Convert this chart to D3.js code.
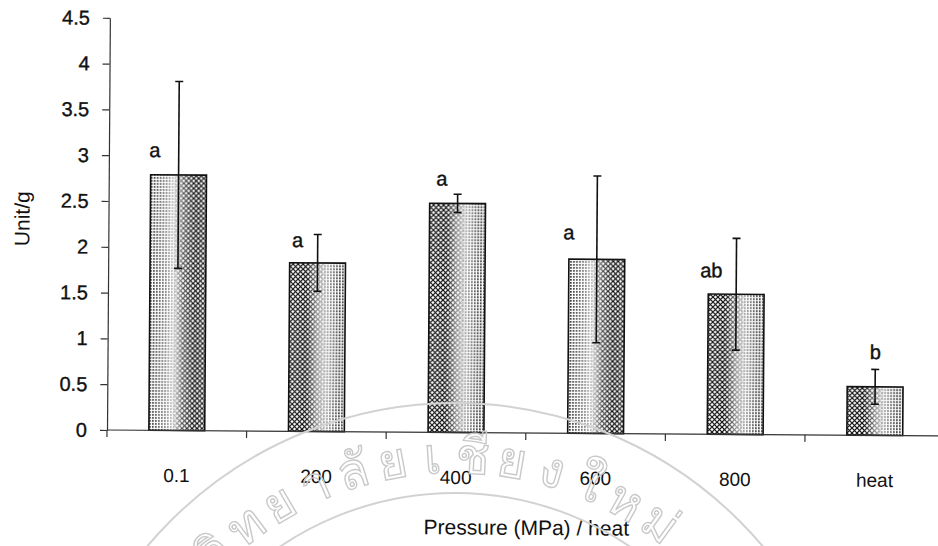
<!DOCTYPE html>
<html>
<head>
<meta charset="utf-8"/>
<script src="https://d3js.org/d3.v7.min.js"></script>
<style>
body { margin: 0; background: #fff; overflow: hidden; }
text { font-family: "Liberation Sans", Arial, sans-serif; fill: #111; }
.axis path, .axis line { stroke: #333; stroke-width: 1.2; }
.axis text { font-size: 19px; }
</style>
</head>
<body>
<svg id="svg" width="938" height="546"></svg>
<script>
var categories = ["0.1", "200", "400", "600", "800", "heat"];
var means = [2.79, 1.84, 2.50, 1.90, 1.53, 0.53];
var errors = [1.02, 0.31, 0.10, 0.91, 0.61, 0.19];
var letters = ["a", "a", "a", "a", "ab", "b"];
var yTicks = [0, 0.5, 1, 1.5, 2, 2.5, 3, 3.5, 4, 4.5];
var yTitle = "Unit/g";
var xTitle = "Pressure (MPa) / heat";
// visible part of the seal watermark on the scanned page, as glyph clusters
var watermark = ["วิ", "ท", "ย", "า", "ลั", "ย", "เ", "ชี", "ย", "ง", "ใ", "ห", "ม่"];

// styling only (which side the halftone pattern sits on, letter nudges)
var shading = ["dotsLeft", "crossLeft", "crossLeft", "dotsLeft", "crossLeft", "crossLeft"];
var letterShift = [[-24, -25], [-20, -23], [-16, -25], [-28, -27], [-25, -24], [0, -35]];

var margin = { left: 107, top: 17.8 },
    height = 412.2,
    width = 837.6;

var svg = d3.select("#svg");
svg.append("rect").attr("width", 938).attr("height", 546).attr("fill", "#fff");

var defs = svg.append("defs");
var dots = defs.append("pattern").attr("id", "dots")
    .attr("patternUnits", "userSpaceOnUse").attr("width", 3).attr("height", 3);
dots.append("rect").attr("width", 1.7).attr("height", 1.7).attr("fill", "#000");
var cross = defs.append("pattern").attr("id", "cross")
    .attr("patternUnits", "userSpaceOnUse").attr("width", 5).attr("height", 5);
cross.append("path").attr("d", "M-1,-1L6,6M6,-1L-1,6")
    .attr("stroke", "#000").attr("stroke-width", 1.2);

var ramps = {
  dotsLeft: { dots: [[0, 0.85], [0.3, 0.55], [0.5, 0.1], [0.6, 0]],
              cross: [[0.4, 0], [0.6, 0.7], [0.82, 1], [1, 0.85]] },
  crossLeft: { cross: [[0, 0.9], [0.3, 1], [0.55, 0.35], [0.68, 0]],
               dots: [[0.5, 0], [0.7, 0.5], [0.9, 0.9], [1, 0.8]] }
};
Object.keys(ramps).forEach(function(k) {
  ["dots", "cross"].forEach(function(p) {
    var grad = defs.append("linearGradient").attr("id", "g-" + k + "-" + p)
        .attr("x1", 0).attr("x2", 1).attr("y1", 0).attr("y2", 0);
    ramps[k][p].forEach(function(s) {
      grad.append("stop").attr("offset", s[0])
          .attr("stop-color", "#fff").attr("stop-opacity", s[1]);
    });
    var mask = defs.append("mask").attr("id", "m-" + k + "-" + p)
        .attr("maskContentUnits", "objectBoundingBox");
    mask.append("rect").attr("width", 1).attr("height", 1)
        .attr("fill", "url(#g-" + k + "-" + p + ")");
  });
});

// the scan is a little tilted
var root = svg.append("g").attr("transform", "rotate(0.4,107,430)");
var g = root.append("g")
    .attr("transform", "translate(" + margin.left + "," + margin.top + ")");

var y = d3.scaleLinear().domain([0, 4.5]).range([height, 0]);
var x = d3.scaleBand().domain(categories).range([0, width])
    .paddingInner(0.6).paddingOuter(0.3);

// bars
var bars = g.selectAll(".bar").data(categories).enter().append("g").attr("class", "bar");
function barRect(sel) {
  return sel.attr("x", function(d) { return x(d); })
    .attr("y", function(d, i) { return y(means[i]); })
    .attr("width", x.bandwidth())
    .attr("height", function(d, i) { return height - y(means[i]); });
}
barRect(bars.append("rect")).attr("fill", "#fff");
barRect(bars.append("rect")).attr("fill", "url(#dots)")
    .attr("mask", function(d, i) { return "url(#m-" + shading[i] + "-dots)"; });
barRect(bars.append("rect")).attr("fill", "url(#cross)")
    .attr("mask", function(d, i) { return "url(#m-" + shading[i] + "-cross)"; });
barRect(bars.append("rect")).attr("fill", "none").attr("stroke", "#111").attr("stroke-width", 1.6);

// error bars
var cx = function(d) { return x(d) + x.bandwidth() / 2; };
bars.append("line")
    .attr("x1", cx).attr("x2", cx)
    .attr("y1", function(d, i) { return y(means[i] - errors[i]); })
    .attr("y2", function(d, i) { return y(means[i] + errors[i]); })
    .attr("stroke", "#111").attr("stroke-width", 1.6);
[-1, 1].forEach(function(s) {
  bars.append("line")
      .attr("x1", function(d) { return cx(d) - 4; })
      .attr("x2", function(d) { return cx(d) + 4; })
      .attr("y1", function(d, i) { return y(means[i] + s * errors[i]); })
      .attr("y2", function(d, i) { return y(means[i] + s * errors[i]); })
      .attr("stroke", "#111").attr("stroke-width", 1.6);
});

// significance letters
bars.append("text")
    .attr("x", function(d, i) { return cx(d) + letterShift[i][0]; })
    .attr("y", function(d, i) { return y(means[i]) + letterShift[i][1]; })
    .attr("dy", "0.36em")
    .attr("text-anchor", "middle")
    .style("font-size", "20px")
    .style("stroke", "#111").style("stroke-width", 0.4)
    .text(function(d, i) { return letters[i]; });

// y axis
var yAxisG = g.append("g").attr("class", "axis")
    .call(d3.axisLeft(y).tickValues(yTicks).tickFormat(d3.format("~g"))
      .tickSize(7).tickSizeOuter(0).tickPadding(13));
yAxisG.selectAll("text").style("font-size", "20px")
    .style("stroke", "#111").style("stroke-width", 0.35);

// x axis: line, ticks between categories, labels
var xAxisG = g.append("g").attr("class", "axis")
    .attr("transform", "translate(0," + height + ")")
    .call(d3.axisBottom(x).tickSize(0).tickPadding(38));
xAxisG.select(".domain").remove();
xAxisG.append("line").attr("x1", 0).attr("x2", width).attr("y1", 0).attr("y2", 0);
var bounds = categories.map(function(d) { return x(d) - x.step() * x.paddingOuter(); });
xAxisG.selectAll(".sep").data(bounds).enter().append("line").attr("class", "sep")
    .attr("x1", function(d) { return d; }).attr("x2", function(d) { return d; })
    .attr("y1", 0).attr("y2", 7);

// titles
root.append("text")
    .attr("transform", "translate(28," + (margin.top + y(2.3)) + ") rotate(-90)")
    .attr("text-anchor", "middle")
    .style("font-size", "21px")
    .text(yTitle);
root.append("text")
    .attr("x", 527).attr("y", 532)
    .attr("text-anchor", "middle")
    .style("font-size", "21px")
    .text(xTitle);

// faint seal watermark from the scanned page
var wm = svg.append("g").attr("fill", "none").attr("stroke", "#d2d2d2");
var wc = [455, 805];
[402, 312].forEach(function(r) {
  wm.append("circle").attr("cx", wc[0]).attr("cy", wc[1]).attr("r", r).attr("stroke-width", 2);
});
var angle = d3.scaleLinear().domain([0, watermark.length - 1]).range([-43.5, 36]);
var tr = 332;
wm.selectAll(".wm").data(watermark).enter().append("text").attr("class", "wm")
    .attr("transform", function(d, i) {
      var a = angle(i) * Math.PI / 180;
      return "translate(" + (wc[0] + tr * Math.sin(a)) + "," + (wc[1] - tr * Math.cos(a)) +
        ") rotate(" + angle(i) + ")";
    })
    .attr("text-anchor", "middle")
    .style("font-size", "50px").style("fill", "none")
    .attr("stroke", "#c9c9c9").attr("stroke-width", 1.4)
    .text(function(d) { return d; });
</script>
</body>
</html>
